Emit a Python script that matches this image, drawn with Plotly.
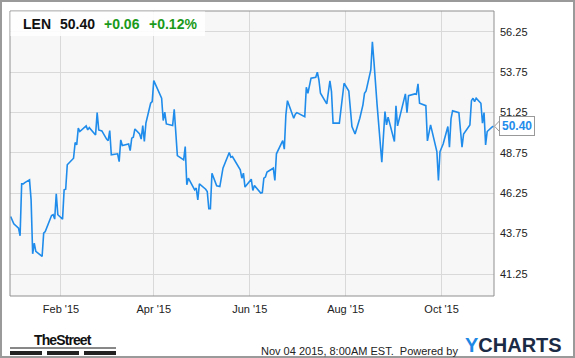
import plotly.graph_objects as go

# ---- data ----
dates = [
    "2014-12-31", "2015-01-02", "2015-01-05", "2015-01-06", "2015-01-07", "2015-01-08", "2015-01-09",
    "2015-01-12", "2015-01-13", "2015-01-14", "2015-01-15", "2015-01-16", "2015-01-20", "2015-01-21",
    "2015-01-22", "2015-01-26", "2015-01-27", "2015-01-28", "2015-01-29", "2015-01-30",
    "2015-02-02", "2015-02-03", "2015-02-04", "2015-02-05", "2015-02-09", "2015-02-10", "2015-02-11",
    "2015-02-12", "2015-02-13", "2015-02-17", "2015-02-18", "2015-02-19", "2015-02-23", "2015-02-24",
    "2015-02-25", "2015-02-27",
    "2015-03-02", "2015-03-03", "2015-03-04", "2015-03-05", "2015-03-09", "2015-03-10", "2015-03-11",
    "2015-03-12", "2015-03-16", "2015-03-17", "2015-03-18", "2015-03-19", "2015-03-20", "2015-03-23",
    "2015-03-24", "2015-03-25", "2015-03-26", "2015-03-27", "2015-03-30", "2015-03-31",
    "2015-04-01", "2015-04-06", "2015-04-07", "2015-04-08", "2015-04-09", "2015-04-13", "2015-04-14",
    "2015-04-16", "2015-04-20", "2015-04-21", "2015-04-22", "2015-04-23", "2015-04-27", "2015-04-28",
    "2015-04-29", "2015-04-30",
    "2015-05-04", "2015-05-05", "2015-05-06", "2015-05-07", "2015-05-08", "2015-05-11", "2015-05-13",
    "2015-05-14", "2015-05-15", "2015-05-19", "2015-05-20", "2015-05-21", "2015-05-26", "2015-05-27",
    "2015-05-28", "2015-05-29",
    "2015-06-01", "2015-06-02", "2015-06-03", "2015-06-04", "2015-06-08", "2015-06-09", "2015-06-10",
    "2015-06-11", "2015-06-12", "2015-06-16", "2015-06-17", "2015-06-18", "2015-06-22", "2015-06-23",
    "2015-06-24", "2015-06-25", "2015-06-29", "2015-06-30",
    "2015-07-01", "2015-07-06", "2015-07-07", "2015-07-08", "2015-07-10", "2015-07-13", "2015-07-14",
    "2015-07-15", "2015-07-16", "2015-07-20", "2015-07-22", "2015-07-23", "2015-07-24", "2015-07-28",
    "2015-07-31",
    "2015-08-03", "2015-08-05", "2015-08-07", "2015-08-10", "2015-08-12", "2015-08-13", "2015-08-14",
    "2015-08-17", "2015-08-18", "2015-08-19", "2015-08-20", "2015-08-21", "2015-08-24", "2015-08-26",
    "2015-08-27", "2015-08-28",
    "2015-09-01", "2015-09-02", "2015-09-03", "2015-09-08", "2015-09-09", "2015-09-10", "2015-09-14",
    "2015-09-15", "2015-09-16", "2015-09-17", "2015-09-21", "2015-09-22", "2015-09-24", "2015-09-28",
    "2015-09-29", "2015-09-30",
    "2015-10-02", "2015-10-05", "2015-10-06", "2015-10-07", "2015-10-08", "2015-10-12", "2015-10-14",
    "2015-10-15", "2015-10-19", "2015-10-20", "2015-10-21", "2015-10-22", "2015-10-23", "2015-10-26",
    "2015-10-27", "2015-10-28", "2015-10-29", "2015-10-30",
    "2015-11-02", "2015-11-03",
]
prices = [
    44.81, 44.36, 44.09, 43.62, 46.83, 46.83, 46.91,
    47.08, 45.84, 42.50, 43.16, 42.65, 42.34, 43.78,
    43.88, 44.87, 44.92, 44.65, 46.21, 44.92,
    44.65, 46.46, 46.50, 48.01, 48.42, 49.39, 49.24,
    50.28, 50.07, 50.42, 50.17, 50.31, 49.86, 51.24,
    50.17, 50.11,
    49.60, 49.51, 50.13, 48.63, 48.69, 48.21, 49.55,
    49.20, 49.30, 48.89, 49.66, 49.72, 50.23, 49.92,
    49.60, 50.44, 49.45, 50.59, 51.82, 51.92,
    53.22, 52.13, 50.75, 51.27, 50.54, 50.44, 51.45,
    48.58, 48.32, 49.14, 46.77, 47.18, 46.46, 46.57,
    45.84, 46.83,
    46.50, 46.36, 45.29, 45.29, 47.49, 46.71, 46.66,
    47.28, 47.80, 48.77, 48.48, 48.52, 47.70, 47.18,
    47.49, 46.63,
    46.97, 47.12, 46.42, 46.73, 46.26, 46.29, 47.18,
    47.25, 47.56, 47.80, 47.04, 48.69, 49.51, 48.98,
    51.10, 51.98, 50.89, 51.14,
    51.24, 50.99, 52.81, 52.44, 53.37, 53.43, 53.74,
    53.26, 52.44, 51.78, 53.20, 52.54, 50.59, 50.59,
    53.06,
    52.58, 50.38, 49.92, 50.89, 51.72, 52.44, 52.58,
    53.88, 55.63, 54.40, 52.75, 51.72, 48.17, 51.30,
    50.48, 50.96,
    49.45, 51.66, 50.42, 52.40, 51.24, 52.29, 52.40,
    52.38, 53.02, 51.82, 51.67, 49.49, 50.48, 48.83,
    47.04, 48.83,
    49.30, 50.38, 49.10, 50.85, 51.36, 51.24, 49.10,
    49.92, 50.48, 51.98, 52.13, 51.92, 52.13, 51.82,
    50.59, 51.24, 49.24, 50.07,
    50.34, 50.40,
]
x_tick_dates = ["2015-02-01", "2015-04-01", "2015-06-01", "2015-08-01", "2015-10-01"]
x_tick_labels = ["Feb '15", "Apr '15", "Jun '15", "Aug '15", "Oct '15"]
y_tick_values = [41.25, 43.75, 46.25, 48.75, 51.25, 53.75, 56.25]
y_tick_labels = ["41.25", "43.75", "46.25", "48.75", "51.25", "53.75", "56.25"]
ticker = "LEN"
last_price = "50.40"
change = "+0.06"
change_pct = "+0.12%"

# ---- layout geometry (pixels) ----
W, H = 575, 358
L, R, T, B = 10, 494, 11, 296          # plot area edges in px
pw, ph = R - L, B - T


def px(x):
    return (x - L) / pw


def py(y):
    return (B - y) / ph


BLUE = "#1f8ceb"
GREEN = "#1a9a1a"
FONT = "Arial, Liberation Sans, sans-serif"

fig = go.Figure()
fig.add_trace(go.Scatter(
    x=dates, y=prices, mode="lines",
    line=dict(color=BLUE, width=1.6),
    hoverinfo="skip", showlegend=False,
))

shapes = [
    # outer frame
    dict(type="rect", xref="paper", yref="paper",
         x0=px(1), x1=px(574), y0=py(357), y1=py(1),
         line=dict(color="#9a9a9a", width=2), layer="above"),
    # plot area border
    dict(type="rect", xref="paper", yref="paper",
         x0=0, x1=1, y0=0, y1=1,
         line=dict(color="#8f8f8f", width=1), layer="above"),
    # header box
    dict(type="rect", xref="paper", yref="paper",
         x0=px(L + 0.5), x1=px(205), y0=py(36), y1=py(T + 0.5),
         fillcolor="rgba(255,255,255,0.88)", line=dict(width=0), layer="above"),
    # TheStreet logo line + bars
    dict(type="line", xref="paper", yref="paper",
         x0=px(10), x1=px(116), y0=py(348), y1=py(348),
         line=dict(color="#111", width=1)),
    dict(type="rect", xref="paper", yref="paper",
         x0=px(10), x1=px(42), y0=py(355), y1=py(351),
         fillcolor="#222", line=dict(width=0)),
    dict(type="rect", xref="paper", yref="paper",
         x0=px(47), x1=px(79), y0=py(355), y1=py(351),
         fillcolor="#222", line=dict(width=0)),
    dict(type="rect", xref="paper", yref="paper",
         x0=px(84), x1=px(116), y0=py(355), y1=py(351),
         fillcolor="#222", line=dict(width=0)),
]

annotations = [
    dict(text="<b>%s</b>" % ticker, x=px(21), y=py(23.5), xref="paper", yref="paper",
         xanchor="left", yanchor="middle", showarrow=False,
         font=dict(family=FONT, size=14, color="#111")),
    dict(text="<b>%s</b>" % last_price, x=px(58), y=py(23.5), xref="paper", yref="paper",
         xanchor="left", yanchor="middle", showarrow=False,
         font=dict(family=FONT, size=14, color="#111")),
    dict(text="<b>%s</b>" % change, x=px(102), y=py(23.5), xref="paper", yref="paper",
         xanchor="left", yanchor="middle", showarrow=False,
         font=dict(family=FONT, size=14, color=GREEN)),
    dict(text="<b>%s</b>" % change_pct, x=px(147), y=py(23.5), xref="paper", yref="paper",
         xanchor="left", yanchor="middle", showarrow=False,
         font=dict(family=FONT, size=14, color=GREEN)),
    # last price tag
    dict(text="<b>%s</b>" % last_price, x=px(499), y=float(last_price), xref="paper", yref="y",
         xanchor="left", yanchor="middle", showarrow=False,
         bgcolor="white", bordercolor="#999", borderwidth=1, borderpad=2,
         font=dict(family=FONT, size=12, color=BLUE)),
    # footer
    dict(text="Nov 04 2015, 8:00AM EST.  Powered by", x=px(460), y=py(351), xref="paper", yref="paper",
         xanchor="right", yanchor="middle", showarrow=False,
         font=dict(family=FONT, size=11, color="#222")),
    dict(text="<b><span style='color:#1e88e5'>Y</span>CHARTS</b>", x=px(463), y=py(344.5),
         xref="paper", yref="paper", xanchor="left", yanchor="middle", showarrow=False,
         font=dict(family=FONT, size=20, color="#1b2a45")),
    dict(text="<b><span style='letter-spacing:-0.9px'>TheStreet</span></b>", x=px(63), y=py(340),
         xref="paper", yref="paper",
         xanchor="center", yanchor="middle", showarrow=False,
         font=dict(family=FONT, size=14, color="#111")),
]

# tag pointer
shapes.append(dict(type="path", xref="paper", yref="y",
                   path="M %f,%f L %f,%f L %f,%f" % (px(499.5), float(last_price) + 0.33,
                                                     px(494.5), float(last_price),
                                                     px(499.5), float(last_price) - 0.33),
                   line=dict(color="#999", width=1), fillcolor="white", layer="above"))

fig.update_layout(
    width=W, height=H, autosize=False,
    margin=dict(l=L, r=W - R, t=T, b=H - B, pad=0),
    paper_bgcolor="white", plot_bgcolor="#f7f7f7",
    font=dict(family=FONT, size=11, color="#222"),
    shapes=shapes, annotations=annotations,
    xaxis=dict(type="date", range=["2014-12-30 14:00", "2015-11-03 08:00"],
               tickvals=x_tick_dates, ticktext=x_tick_labels,
               showgrid=True, gridcolor="#d9d9d9", gridwidth=1,
               zeroline=False, showline=False, ticks="", ticklabelstandoff=5,
               tickfont=dict(family=FONT, size=11, color="#222"), fixedrange=True),
    yaxis=dict(side="right", range=[39.89, 57.53],
               tickvals=y_tick_values, ticktext=y_tick_labels,
               showgrid=True, gridcolor="#d9d9d9", gridwidth=1,
               zeroline=False, showline=False, ticks="", ticklabelstandoff=5,
               tickfont=dict(family=FONT, size=11, color="#222"), fixedrange=True),
    showlegend=False,
)

fig.write_html("out.html", config={"displayModeBar": False})
